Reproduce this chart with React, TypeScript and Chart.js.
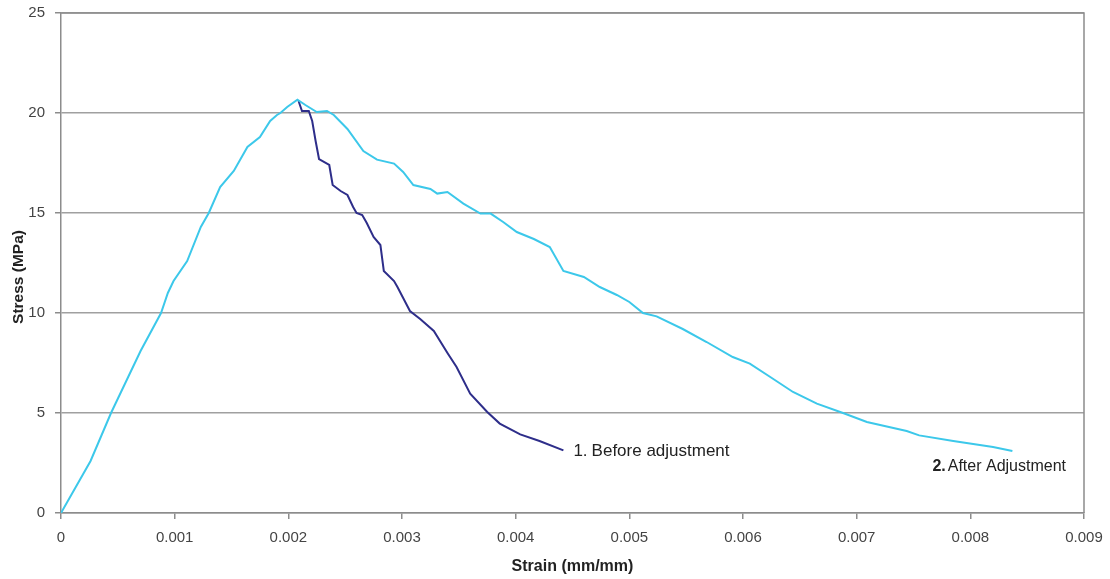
import React, { useEffect, useRef } from "react";
import { Chart, registerables } from "chart.js";

Chart.register(...registerables);

const afterStrain = [
  0, 0.00026, 0.00044, 0.0007, 0.00088, 0.00094, 0.00099, 0.00111, 0.00123, 0.0013,
  0.0014, 0.00152, 0.00164, 0.00175, 0.00184, 0.0019, 0.00193, 0.00199, 0.00208, 0.00215,
  0.00225, 0.00234, 0.0024, 0.00252, 0.00266, 0.00278, 0.00293, 0.00301, 0.0031, 0.00325,
  0.00331, 0.0034, 0.00354, 0.00369, 0.00378, 0.00389, 0.00401, 0.00416, 0.0043, 0.00442,
  0.0046, 0.00474, 0.00489, 0.005, 0.00512, 0.00524, 0.00547, 0.00568, 0.00591, 0.00606,
  0.00624, 0.00644, 0.00665, 0.00688, 0.00709, 0.00744, 0.00755, 0.00785, 0.0082, 0.00837,
];
const afterStress = [
  0, 2.6, 5.0, 8.1, 10.0, 11.0, 11.6, 12.6, 14.3, 15.0,
  16.3, 17.1, 18.3, 18.8, 19.6, 19.9, 20.0, 20.3, 20.67, 20.4,
  20.05, 20.1, 19.9, 19.2, 18.1, 17.67, 17.47, 17.05, 16.4, 16.2,
  15.97, 16.05, 15.47, 14.97, 14.97, 14.55, 14.05, 13.7, 13.3, 12.1,
  11.8, 11.3, 10.9, 10.55, 10.0, 9.83, 9.2, 8.55, 7.8, 7.47,
  6.8, 6.05, 5.47, 5.0, 4.55, 4.1, 3.88, 3.6, 3.3, 3.1,
];

const beforeStrain = [
  0.00209, 0.00212, 0.00218, 0.00221, 0.00224, 0.00227, 0.00236, 0.00239, 0.00246, 0.00252,
  0.00257, 0.0026, 0.00265, 0.00269, 0.00275, 0.00281, 0.00284, 0.00293, 0.00296, 0.00307,
  0.00316, 0.00328, 0.0034, 0.00348, 0.0036, 0.00375, 0.00386, 0.00404, 0.00421, 0.00442,
];
const beforeStress = [
  20.6, 20.1, 20.1, 19.6, 18.6, 17.7, 17.4, 16.4, 16.1, 15.9,
  15.3, 15.0, 14.9, 14.5, 13.8, 13.4, 12.1, 11.6, 11.3, 10.1,
  9.7, 9.1, 8.0, 7.3, 5.97, 5.05, 4.47, 3.93, 3.6, 3.13,
];

const seriesNumbers = ["1.", "2."];
const seriesNames = ["Before adjustment", "After Adjustment"];
const xTitle = "Strain (mm/mm)";
const yTitle = "Stress (MPa)";

const FONT = "'Liberation Sans', Arial, sans-serif";

const toPoints = (xs: number[], ys: number[]) => xs.map((x, i) => ({ x, y: ys[i] }));

const labelPlugin = {
  id: "endLabels",
  afterDatasetsDraw(chart: any) {
    const ctx = chart.ctx;
    const { left, top, right, bottom } = chart.chartArea;
    ctx.save();
    ctx.strokeStyle = "#8c8c8c";
    ctx.lineWidth = 1.5;
    ctx.beginPath();
    ctx.moveTo(left, top);
    ctx.lineTo(right, top);
    ctx.lineTo(right, bottom);
    ctx.stroke();
    ctx.restore();

    // y axis title (slightly below the axis centre, as in the original)
    ctx.save();
    ctx.translate(19, (top + bottom) / 2 + 14);
    ctx.rotate(-Math.PI / 2);
    ctx.fillStyle = "#222";
    ctx.font = `bold 15.5px ${FONT}`;
    ctx.textAlign = "center";
    ctx.textBaseline = "middle";
    ctx.fillText(yTitle, 0, 0);
    ctx.restore();

    const styles = [
      { dx: 10, dy: 1, size: 17, boldNum: false, gap: 4 },
      { dx: -80, dy: 16, size: 16, boldNum: true, gap: 2 },
    ];
    chart.data.datasets.forEach((ds: any, i: number) => {
      const meta = chart.getDatasetMeta(i);
      const last = meta.data[meta.data.length - 1];
      if (!last) return;
      const idx = ds.labelIndex;
      const s = styles[idx];
      const x = last.x + s.dx;
      const y = last.y + s.dy;
      ctx.save();
      ctx.fillStyle = "#222";
      ctx.textBaseline = "middle";
      ctx.textAlign = "left";
      ctx.font = `${s.boldNum ? "bold " : ""}${s.size}px ${FONT}`;
      const num = seriesNumbers[idx];
      ctx.fillText(num, x, y);
      const w = ctx.measureText(num).width;
      ctx.font = `${s.size}px ${FONT}`;
      ctx.fillText(seriesNames[idx], x + w + s.gap, y);
      ctx.restore();
    });
  },
};

export default function App() {
  const canvasRef = useRef<HTMLCanvasElement | null>(null);

  useEffect(() => {
    const canvas = canvasRef.current;
    if (!canvas) return;
    const chart = new Chart(canvas, {
      type: "scatter",
      data: {
        datasets: [
          {
            label: seriesNames[1],
            data: toPoints(afterStrain, afterStress),
            showLine: true,
            borderColor: "#3cc8ea",
            borderWidth: 2,
            pointRadius: 0,
            tension: 0,
            labelIndex: 1,
          } as any,
          {
            label: seriesNames[0],
            data: toPoints(beforeStrain, beforeStress),
            showLine: true,
            borderColor: "#2e2e8a",
            borderWidth: 2,
            pointRadius: 0,
            tension: 0,
            labelIndex: 0,
          } as any,
        ],
      },
      options: {
        animation: false,
        responsive: false,
        maintainAspectRatio: false,
        layout: { padding: { top: 13, right: 26, left: 0, bottom: 0 } },
        plugins: {
          legend: { display: false },
          tooltip: { enabled: false },
        },
        scales: {
          x: {
            type: "linear",
            min: 0,
            max: 0.009,
            ticks: {
              stepSize: 0.001,
              color: "#444",
              font: { family: FONT, size: 15 },
              padding: 10,
              maxRotation: 0,
              callback: (v: any) => String(Number(Number(v).toFixed(3))),
            },
            grid: {
              drawOnChartArea: false,
              drawTicks: true,
              tickLength: 6,
              color: "#8c8c8c",
              lineWidth: 1.5,
            },
            border: { color: "#8c8c8c", width: 1.5 },
            title: {
              display: true,
              text: xTitle,
              color: "#222",
              font: { family: FONT, size: 16, weight: "bold" },
              padding: { top: 0, bottom: 3 },
            },
            afterFit: (scale: any) => {
              scale.height = 66;
              scale.paddingLeft = 0;
              scale.paddingRight = 0;
            },
          },
          y: {
            type: "linear",
            min: 0,
            max: 25,
            ticks: {
              stepSize: 5,
              color: "#444",
              font: { family: FONT, size: 15 },
              padding: 10,
            },
            grid: {
              color: "#a0a0a0",
              lineWidth: 1.5,
              tickLength: 6,
              tickColor: "#8c8c8c",
            },
            border: { color: "#8c8c8c", width: 1.5 },
            title: { display: false },
            afterFit: (scale: any) => {
              scale.width = 61;
              scale.paddingTop = 0;
              scale.paddingBottom = 0;
            },
          },
        },
      } as any,
      plugins: [labelPlugin],
    });
    return () => chart.destroy();
  }, []);

  return (
    <div style={{ position: "fixed", left: 0, top: 0, width: 1110, height: 579, background: "#fff" }}>
      <canvas ref={canvasRef} width={1110} height={579} />
    </div>
  );
}
